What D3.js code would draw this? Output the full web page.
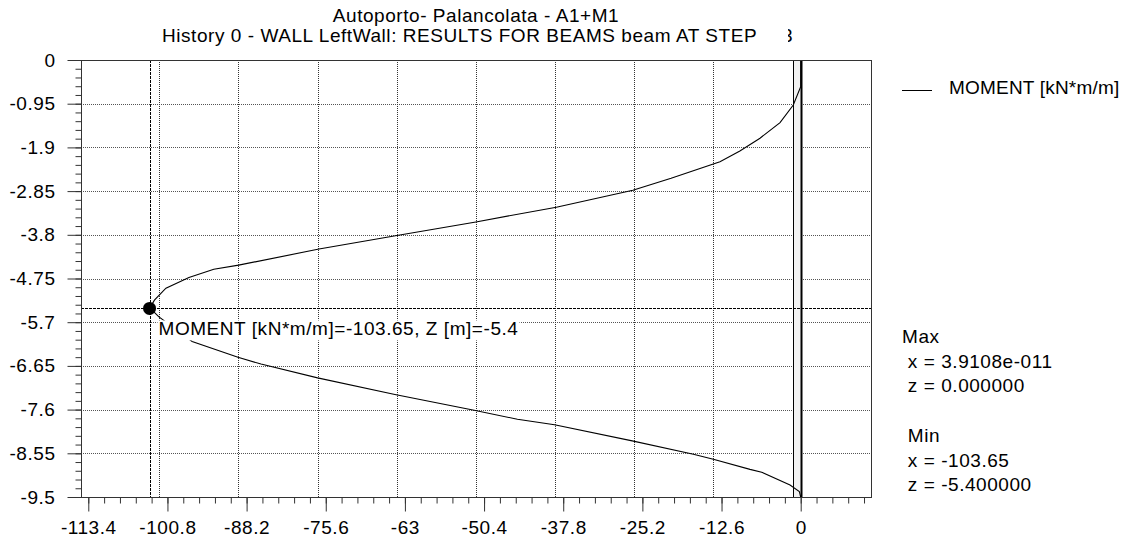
<!DOCTYPE html>
<html>
<head>
<meta charset="utf-8">
<script src="https://cdn.jsdelivr.net/npm/d3@7"></script>
<style>
  body { margin: 0; background: #fff; }
  svg text { font-family: "Liberation Sans", Arial, sans-serif; font-size: 19px; fill: #000; letter-spacing: 0.55px; }
</style>
</head>
<body>
<div id="chart"></div>
<script>
// bending moment along the wall
var moment = [0, 0, -1.18, -3.29, -6.48, -9.68, -12.85, -20.63, -26.72, -38.90,
              -51.70, -64.50, -76.67, -89.47, -93.42, -97.38, -101.04, -102.87, -103.65, -103.0,
              -102.2, -96.87, -89.57, -85.91, -76.90, -64.59, -51.79, -45.09, -39.19, -26.82,
              -17.08, -13.91, -8.07, -6.21, -1.70, -0.22, 0];
var depth = [0, -0.58, -0.98, -1.36, -1.70, -1.98, -2.21, -2.57, -2.83, -3.20,
             -3.52, -3.82, -4.11, -4.46, -4.55, -4.73, -4.96, -5.22, -5.40, -5.47,
             -5.58, -6.12, -6.46, -6.61, -6.91, -7.27, -7.62, -7.81, -7.93, -8.28,
             -8.57, -8.68, -8.90, -8.96, -9.24, -9.38, -9.50];

var xTicks = [-113.4, -100.8, -88.2, -75.6, -63, -50.4, -37.8, -25.2, -12.6, 0];
var yTicks = [0, -0.95, -1.9, -2.85, -3.8, -4.75, -5.7, -6.65, -7.6, -8.55, -9.5];

var minPoint = {m: -103.65, z: -5.4};
var wall = [-1.3, 0];
var gridShift = -1.3;

var titles = ["Autoporto- Palancolata - A1+M1",
              "History 0 - WALL LeftWall: RESULTS FOR BEAMS beam AT STEP"];
var seriesName = "MOMENT [kN*m/m]";
var infoLines = ["Max", " x = 3.9108e-011", " z = 0.000000", "", " Min", " x = -103.65", " z = -5.400000"];

function main()
{
    var W = 1132, H = 540;
    var plot = {left: 81, top: 60, right: 871, bottom: 497};

    var svg = d3.select("#chart").append("svg")
        .attr("width", W).attr("height", H)
        .style("display", "block");

    var x = d3.scaleLinear().domain([-114.56, 11.19]).range([plot.left, plot.right]);
    var y = d3.scaleLinear().domain([0, -9.5]).range([plot.top, plot.bottom]);

    //minor tick values
    var xMinor = d3.range(0, 50).map(function(i) { return -113.4 + i * 2.52; })
        .filter(function(v) { return x(v) <= plot.right + 0.5; });
    var yMinor = d3.range(0, 51).map(function(i) { return -i * 0.19; });

    //grid
    var grid = svg.append("g");
    grid.selectAll(".hg").data(yTicks.slice(1, -1)).enter().append("line")
        .attr("x1", plot.left).attr("x2", plot.right)
        .attr("y1", function(d) { return Math.round(y(d)) + 0.5; })
        .attr("y2", function(d) { return Math.round(y(d)) + 0.5; })
        .attr("stroke", "#555").attr("stroke-dasharray", "1,1");
    grid.selectAll(".vg").data(xTicks.slice(1)).enter().append("line")
        .attr("x1", function(d) { return Math.round(x(d + gridShift)) + 0.5; })
        .attr("x2", function(d) { return Math.round(x(d + gridShift)) + 0.5; })
        .attr("y1", plot.top).attr("y2", plot.bottom)
        .attr("stroke", "#333").attr("stroke-dasharray", "1,1");

    //wall
    svg.append("rect")
        .attr("x", Math.round(x(wall[0])) + 0.5).attr("y", plot.top + 0.5)
        .attr("width", Math.round(x(wall[1])) - Math.round(x(wall[0])))
        .attr("height", plot.bottom - plot.top)
        .attr("fill", "#f2f2f2").attr("stroke", "#000");
    svg.append("line")
        .attr("x1", Math.round(x(wall[1])) + 0.5).attr("x2", Math.round(x(wall[1])) + 0.5)
        .attr("y1", plot.top).attr("y2", plot.bottom + 0.5)
        .attr("stroke", "#000").attr("stroke-width", 2);

    //min marker lines
    svg.append("line")
        .attr("x1", Math.round(x(minPoint.m)) + 0.5).attr("x2", Math.round(x(minPoint.m)) + 0.5)
        .attr("y1", plot.top).attr("y2", plot.bottom)
        .attr("stroke", "#000").attr("stroke-dasharray", "3,1");
    svg.append("line")
        .attr("x1", plot.left).attr("x2", plot.right)
        .attr("y1", Math.round(y(minPoint.z)) + 0.5).attr("y2", Math.round(y(minPoint.z)) + 0.5)
        .attr("stroke", "#000").attr("stroke-dasharray", "3,1");

    //moment curve
    var pts = moment.map(function(m, i) { return [m, depth[i]]; });
    var line = d3.line()
        .x(function(d) { return x(d[0]); })
        .y(function(d) { return y(d[1]); });
    svg.append("path")
        .attr("d", line(pts))
        .attr("fill", "none").attr("stroke", "#000").attr("stroke-width", 1.1);

    //frame
    svg.append("rect")
        .attr("x", plot.left + 0.5).attr("y", plot.top + 0.5)
        .attr("width", plot.right - plot.left).attr("height", plot.bottom - plot.top)
        .attr("fill", "none").attr("stroke", "#333");

    //axes
    var fmt = function(d) { return String(d); };
    svg.append("g").attr("transform", "translate(" + (plot.left + 0.5) + ",0)")
        .call(d3.axisLeft(y).tickValues(yTicks).tickSize(14).tickPadding(12).tickFormat(fmt));
    svg.append("g").attr("transform", "translate(" + (plot.left + 0.5) + ",0)")
        .call(d3.axisLeft(y).tickValues(yMinor).tickSize(6).tickFormat(""));
    svg.append("g").attr("transform", "translate(0," + (plot.bottom + 0.5) + ")")
        .call(d3.axisBottom(x).tickValues(xTicks).tickSize(14).tickPadding(9).tickFormat(fmt));
    svg.append("g").attr("transform", "translate(0," + (plot.bottom + 0.5) + ")")
        .call(d3.axisBottom(x).tickValues(xMinor).tickSize(6).tickFormat(""));
    svg.selectAll(".domain").remove();
    svg.selectAll(".tick line").attr("stroke", "#333");
    svg.selectAll(".tick text").attr("font-family", null).attr("font-size", null).attr("fill", "#000");

    //min point + label
    var lab = svg.append("g");
    var lt = lab.append("text")
        .attr("x", x(minPoint.m) + 9).attr("y", y(minPoint.z) + 27)
        .text("MOMENT [kN*m/m]=" + minPoint.m + ", Z [m]=" + minPoint.z);
    var bb = lt.node().getBBox();
    lab.insert("rect", "text")
        .attr("x", bb.x - 1).attr("y", bb.y + 2)
        .attr("width", bb.width + 2).attr("height", bb.height - 1)
        .attr("fill", "#fff");
    svg.append("circle")
        .attr("cx", x(minPoint.m)).attr("cy", y(minPoint.z)).attr("r", 6.5)
        .attr("fill", "#000");

    //titles
    svg.append("text").attr("x", (plot.left + plot.right) / 2).attr("y", 22)
        .attr("text-anchor", "middle").text(titles[0]);
    svg.append("text").attr("x", 162).attr("y", 42).text(titles[1]);
    svg.append("clipPath").attr("id", "stepclip")
        .append("rect").attr("x", 788).attr("y", 20).attr("width", 20).attr("height", 30);
    svg.append("text").attr("x", 782).attr("y", 42)
        .attr("clip-path", "url(#stepclip)").text("3");

    //legend
    svg.append("line").attr("x1", 902).attr("x2", 932).attr("y1", 90.5).attr("y2", 90.5)
        .attr("stroke", "#000");
    svg.append("text").attr("x", 949).attr("y", 94).style("letter-spacing", "0.2px").text(seriesName);

    //max / min info
    svg.selectAll(".info").data(infoLines).enter().append("text")
        .attr("x", 902)
        .attr("y", function(d, i) { return 343 + i * 24.7; })
        .style("white-space", "pre")
        .text(function(d) { return d; });
}
main();
</script>
</body>
</html>
